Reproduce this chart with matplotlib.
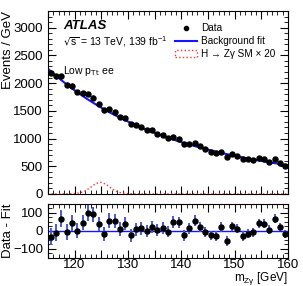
import numpy as np
import matplotlib
matplotlib.use("Agg")
import matplotlib.pyplot as plt
from matplotlib.ticker import MultipleLocator, FuncFormatter
from matplotlib.patches import Patch
from matplotlib.lines import Line2D

plt.rcParams['font.family'] = ['Liberation Sans', 'DejaVu Sans']
plt.rcParams['mathtext.default'] = 'regular'

# bin centres (1 GeV bins)
mass = [115.5 + i for i in range(45)]

# data counts per GeV
data_counts = [2185, 2123, 2122, 1974, 1950, 1838, 1816, 1805, 1736, 1626,
               1513, 1534, 1482, 1388, 1369, 1259, 1249, 1214, 1159, 1145,
               1088, 1064, 1011, 1033, 999, 896, 906, 923, 861, 808,
               763, 739, 762, 665, 724, 692, 631, 625, 614, 648,
               628, 580, 625, 562, 508]

# background fit evaluated along the mass axis
fit_mass = [115.0] + mass + [160.0]
fit_vals = [2258, 2217, 2133, 2054, 1978, 1905, 1836, 1769, 1705, 1644, 1586,
            1530, 1476, 1425, 1376, 1329, 1284, 1240, 1199, 1159, 1121,
            1084, 1049, 1015, 982, 951, 921, 892, 865, 838, 813,
            788, 765, 742, 720, 699, 679, 659, 640, 622, 605,
            588, 572, 557, 541, 527, 520]

# SM signal x 20
sig_mass = list(range(115, 161))
sig_vals = [1, 1, 2, 3, 5, 8, 20, 55, 120, 190, 210, 170, 95, 40, 15, 6, 3, 2] + [1] * 28

data_counts = np.array(data_counts, dtype=float)
errs = np.sqrt(data_counts)
fit_at_bins = np.array(fit_vals[1:-1], dtype=float)
resid = data_counts - fit_at_bins

fig = plt.figure(figsize=(3.03, 2.86), dpi=100)
ax = fig.add_axes([0.158, 0.3217, 0.792, 0.640])
rx = fig.add_axes([0.158, 0.0979, 0.792, 0.189], sharex=ax)

# main panel
ax.plot(sig_mass, sig_vals, ls=':', color='#ff3030', lw=1.0)
ax.plot(fit_mass, fit_vals, color='#1515ff', lw=1.5)
ax.errorbar(mass, data_counts, yerr=errs, fmt='o', color='black', ms=3.6,
            elinewidth=1.0, capsize=0)
ax.set_xlim(115, 160)
ax.set_ylim(0, 3300)
ax.set_ylabel('Events / GeV', fontsize=9.5, ha='right', va='center')
ax.yaxis.set_label_coords(-0.168, 1.0)
ax.yaxis.set_major_locator(MultipleLocator(500))
ax.yaxis.set_minor_locator(MultipleLocator(100))

ax.text(0.065, 0.92, 'ATLAS', transform=ax.transAxes, fontsize=9.5,
        fontweight='bold', fontstyle='italic', va='center')
ax.text(0.065, 0.83, r'$\sqrt{s}$ = 13 TeV, 139 fb$^{-1}$', transform=ax.transAxes,
        fontsize=7.5, va='center')
ax.text(0.065, 0.67, r'Low p$_{\mathrm{Tt}}$ ee', transform=ax.transAxes,
        fontsize=7.5, va='center')

handles = [
    Line2D([0], [0], marker='o', color='black', ms=3, ls='none'),
    Line2D([0], [0], color='#1515ff', lw=1.5),
    Patch(facecolor='none', edgecolor='#ff3030', linestyle=':', lw=1.0),
]
labels = ['Data', 'Background fit', 'H → Zγ SM × 20']
ax.legend(handles, labels, loc='upper right', bbox_to_anchor=(0.975, 0.965),
          frameon=False, fontsize=7.2, handlelength=2.2, handletextpad=0.4,
          labelspacing=0.3, borderaxespad=0.2)

# residual panel
rx.axhline(0, color='#1515ff', lw=1.0)
rx.errorbar(mass, resid, yerr=errs, fmt='o', color='black', ms=3.6,
            ecolor='#4a5ad8', elinewidth=1.4, capsize=0)
rx.set_ylim(-150, 150)
rx.set_ylabel('Data - Fit', fontsize=9.5, va='center')
rx.yaxis.set_label_coords(-0.168, 0.5)
rx.set_xlabel(r'm$_{Z\gamma}$ [GeV]', fontsize=8.5, ha='right', va='center')
rx.xaxis.set_label_coords(1.0, -0.375)
rx.yaxis.set_major_locator(MultipleLocator(100))
rx.yaxis.set_minor_locator(MultipleLocator(25))

for a in (ax, rx):
    a.xaxis.set_major_locator(MultipleLocator(5))
    a.xaxis.set_minor_locator(MultipleLocator(1))
    a.tick_params(which='both', direction='in', top=True, right=True, labelsize=9.5)
    a.tick_params(which='major', length=6, width=0.8)
    a.tick_params(which='minor', length=3, width=0.6)
    for s in a.spines.values():
        s.set_linewidth(0.8)

ax.tick_params(labelbottom=False)
rx.tick_params(axis='x', pad=0.5)
rx.xaxis.set_major_formatter(FuncFormatter(lambda v, p: '%d' % v if int(round(v)) % 10 == 0 else ''))

fig.savefig('out.png', dpi=100)
